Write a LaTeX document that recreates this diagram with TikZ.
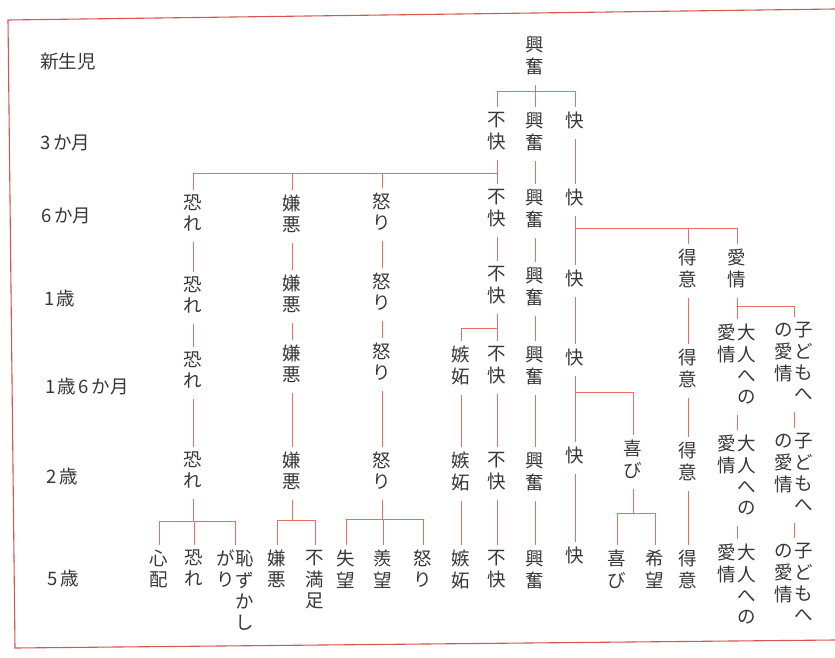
\documentclass[tikz,border=0pt]{standalone}
\usepackage{fontspec}
\setmainfont{Noto Sans CJK JP}
\definecolor{lncol}{RGB}{230,112,100}
\definecolor{framecol}{RGB}{215,85,80}
\definecolor{tx}{RGB}{55,55,55}
\newcommand{\vt}[1]{\begin{tabular}[t]{@{}c@{}}#1\end{tabular}}
\tikzset{
  em/.style={anchor=north, inner xsep=1pt, inner ysep=5pt, text=tx, font=\fontsize{18.5}{21}\selectfont},
  age/.style={anchor=west, inner sep=0pt, text=tx, font=\fontsize{18.5}{20}\selectfont},
  ln/.style={draw=lncol, line width=0.9pt},
  frm/.style={draw=framecol, line width=1.1pt}
}
\begin{document}
\begin{tikzpicture}[x=1pt,y=-1pt]
\useasboundingbox (0,0) rectangle (835,658);
% frame
\draw[frm] (835,9) -- (8,20) -- (15,648) -- (835,640);
% age labels
\node[age] (n0) at (40,62) {新生児};
\node[age] (n1) at (40,143) {3\hspace{0.15em}か月};
\node[age] (n2) at (41,216) {6\hspace{0.15em}か月};
\node[age] (n3) at (44,298) {1\hspace{0.1em}歳};
\node[age] (n4) at (45,386) {1\hspace{0.1em}歳\hspace{0.15em}6\hspace{0.15em}か月};
\node[age] (n5) at (46,476) {2\hspace{0.15em}歳};
\node[age] (n6) at (47,578) {5\hspace{0.15em}歳};
% root
\node[em] (r0) at (535,31) {\vt{興\\奮}};
% 3 months
\node[em] (a1) at (497,107) {\vt{不\\快}};
\node[em] (b1) at (535,107) {\vt{興\\奮}};
\node[em] (c1) at (575,107) {\vt{快}};
% 6 months
\node[em] (f2) at (193,190) {\vt{恐\\れ}};
\node[em] (d2) at (292,190) {\vt{嫌\\悪}};
\node[em] (g2) at (382,188) {\vt{怒\\り}};
\node[em] (a2) at (497,184) {\vt{不\\快}};
\node[em] (b2) at (535,184) {\vt{興\\奮}};
\node[em] (c2) at (575,184) {\vt{快}};
% 1 year
\node[em] (f3) at (193,272) {\vt{恐\\れ}};
\node[em] (d3) at (292,270) {\vt{嫌\\悪}};
\node[em] (g3) at (382,268) {\vt{怒\\り}};
\node[em] (a3) at (497,261) {\vt{不\\快}};
\node[em] (b3) at (535,262) {\vt{興\\奮}};
\node[em] (c3) at (575,265) {\vt{快}};
\node[em] (t3) at (688,244) {\vt{得\\意}};
\node[em] (l3) at (737,244) {\vt{愛\\情}};
% 1.5 years
\node[em] (f4) at (193,347) {\vt{恐\\れ}};
\node[em] (d4) at (292,340) {\vt{嫌\\悪}};
\node[em] (g4) at (382,338) {\vt{怒\\り}};
\node[em] (j4) at (461,341) {\vt{嫉\\妬}};
\node[em] (a4) at (497,341) {\vt{不\\快}};
\node[em] (b4) at (535,341) {\vt{興\\奮}};
\node[em] (c4) at (575,344) {\vt{快}};
\node[em] (t4) at (688,344) {\vt{得\\意}};
\node[em] (o4) at (737,319) {\vt{愛\\情}\hspace{1.5pt}\vt{大\\人\\へ\\の}};
\node[em] (k4) at (794,317) {\vt{の\\愛\\情}\hspace{1.5pt}\vt{子\\ど\\も\\へ}};
% 2 years
\node[em] (f5) at (193,447) {\vt{恐\\れ}};
\node[em] (d5) at (292,447) {\vt{嫌\\悪}};
\node[em] (g5) at (382,447) {\vt{怒\\り}};
\node[em] (j5) at (461,447) {\vt{嫉\\妬}};
\node[em] (a5) at (497,447) {\vt{不\\快}};
\node[em] (b5) at (535,447) {\vt{興\\奮}};
\node[em] (c5) at (575,442) {\vt{快}};
\node[em] (y5) at (633,435) {\vt{喜\\び}};
\node[em] (t5) at (688,437) {\vt{得\\意}};
\node[em] (o5) at (737,430) {\vt{愛\\情}\hspace{1.5pt}\vt{大\\人\\へ\\の}};
\node[em] (k5) at (794,428) {\vt{の\\愛\\情}\hspace{1.5pt}\vt{子\\ど\\も\\へ}};
% 5 years
\node[em] (f6a) at (159,545) {\vt{心\\配}};
\node[em] (f6b) at (194,545) {\vt{恐\\れ}};
\node[em] (f6c) at (235,545) {\vt{が\\り}\hspace{0pt}\vt{恥\\ず\\か\\し}};
\node[em] (d6a) at (277,545) {\vt{嫌\\悪}};
\node[em] (d6b) at (315,545) {\vt{不\\満\\足}};
\node[em] (g6a) at (346,545) {\vt{失\\望}};
\node[em] (g6b) at (383,545) {\vt{羨\\望}};
\node[em] (g6c) at (423,545) {\vt{怒\\り}};
\node[em] (j6) at (461,545) {\vt{嫉\\妬}};
\node[em] (a6) at (497,545) {\vt{不\\快}};
\node[em] (b6) at (535,545) {\vt{興\\奮}};
\node[em] (c6) at (575,542) {\vt{快}};
\node[em] (y6a) at (617,545) {\vt{喜\\び}};
\node[em] (y6b) at (655,545) {\vt{希\\望}};
\node[em] (t6) at (688,545) {\vt{得\\意}};
\node[em] (o6) at (737,539) {\vt{愛\\情}\hspace{1.5pt}\vt{大\\人\\へ\\の}};
\node[em] (k6) at (794,538) {\vt{の\\愛\\情}\hspace{1.5pt}\vt{子\\ど\\も\\へ}};
% bus coordinates
\coordinate (br) at (0,91);
\coordinate (bn) at (0,173);
\coordinate (bk) at (0,228);
\coordinate (bl) at (0,306);
\coordinate (bj) at (0,328);
\coordinate (by) at (0,392);
\coordinate (bf) at (0,521);
\coordinate (bd) at (0,520);
\coordinate (bg) at (0,519);
\coordinate (bh) at (0,513);
% root -> 3 months
\draw[ln] (r0.south) -- (b1.north);
\draw[ln] (a1.north) -- (a1.north |- br) -- (c1.north |- br) -- (c1.north);
% 3 months -> 6 months
\draw[ln] (a1.south) -- (a2.north);
\draw[ln] (f2.north) -- (f2.north |- bn) -- (a1.south |- bn);
\draw[ln] (d2.north) -- (d2.north |- bn);
\draw[ln] (g2.north) -- (g2.north |- bn);
\draw[ln] (b1.south) -- (b2.north);
\draw[ln] (c1.south) -- (c2.north);
% 6 months -> 1 year
\draw[ln] (f2.south) -- (f3.north);
\draw[ln] (d2.south) -- (d3.north);
\draw[ln] (g2.south) -- (g3.north);
\draw[ln] (a2.south) -- (a3.north);
\draw[ln] (b2.south) -- (b3.north);
\draw[ln] (c2.south) -- (c3.north);
\draw[ln] (c2.south |- bk) -- (l3.north |- bk) -- (l3.north);
\draw[ln] (t3.north) -- (t3.north |- bk);
% 1 year -> 1.5 years
\draw[ln] (f3.south) -- (f4.north);
\draw[ln] (d3.south) -- (d4.north);
\draw[ln] (g3.south) -- (g4.north);
\draw[ln] (a3.south) -- (a4.north);
\draw[ln] (j4.north) -- (j4.north |- bj) -- (a3.south |- bj);
\draw[ln] (b3.south) -- (b4.north);
\draw[ln] (c3.south) -- (c4.north);
\draw[ln] (t3.south) -- (t4.north);
\draw[ln] (l3.south) -- (l3.south |- bl) -- (k4.north |- bl) -- (k4.north);
\draw[ln] (l3.south |- bl) -- (o4.north);
% 1.5 years -> 2 years
\draw[ln] (f4.south) -- (f5.north);
\draw[ln] (d4.south) -- (d5.north);
\draw[ln] (g4.south) -- (g5.north);
\draw[ln] (j4.south) -- (j5.north);
\draw[ln] (a4.south) -- (a5.north);
\draw[ln] (b4.south) -- (b5.north);
\draw[ln] (c4.south) -- (c5.north);
\draw[ln] (c4.south |- by) -- (y5.north |- by) -- (y5.north);
\draw[ln] (t4.south) -- (t5.north);
\draw[ln] (o4.south) -- (o5.north);
\draw[ln] (k4.south) -- (k5.north);
% 2 years -> 5 years
\draw[ln] (f5.south) -- (f5.south |- bf);
\draw[ln] (f6a.north) -- (f6a.north |- bf) -- (f6c.north |- bf) -- (f6c.north);
\draw[ln] (f6b.north) -- (f6b.north |- bf);
\draw[ln] (d5.south) -- (d5.south |- bd);
\draw[ln] (d6a.north) -- (d6a.north |- bd) -- (d6b.north |- bd) -- (d6b.north);
\draw[ln] (g5.south) -- (g5.south |- bg);
\draw[ln] (g6a.north) -- (g6a.north |- bg) -- (g6c.north |- bg) -- (g6c.north);
\draw[ln] (g6b.north) -- (g6b.north |- bg);
\draw[ln] (j5.south) -- (j6.north);
\draw[ln] (a5.south) -- (a6.north);
\draw[ln] (b5.south) -- (b6.north);
\draw[ln] (c5.south) -- (c6.north);
\draw[ln] (y5.south) -- (y5.south |- bh);
\draw[ln] (y6a.north) -- (y6a.north |- bh) -- (y6b.north |- bh) -- (y6b.north);
\draw[ln] (t5.south) -- (t6.north);
\draw[ln] (o5.south) -- (o6.north);
\draw[ln] (k5.south) -- (k6.north);
\end{tikzpicture}
\end{document}
